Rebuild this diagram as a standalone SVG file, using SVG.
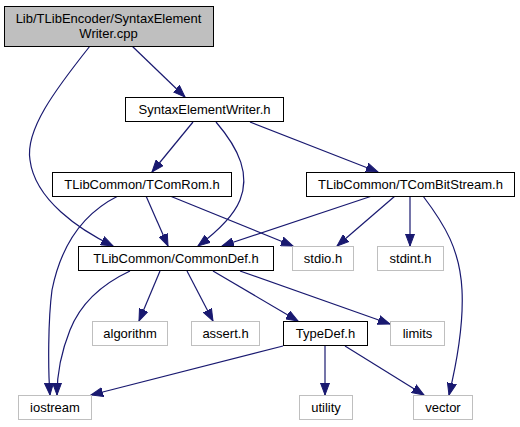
<svg xmlns="http://www.w3.org/2000/svg" width="520" height="427" viewBox="0 0 520 427">
<defs>
<marker id="arr" markerUnits="userSpaceOnUse" markerWidth="13" markerHeight="10" refX="12" refY="5" orient="auto">
<path d="M0,0.5 L12,5 L0,9.5 z" fill="#191970" stroke="#191970" stroke-width="1"/>
</marker>
</defs>
<style>
text{font-family:"Liberation Sans",Arial,sans-serif;font-size:13px;fill:#000;text-anchor:middle}
.n{fill:#fff;stroke:#000;stroke-width:1}
.s{fill:#fff;stroke:#bfbfbf;stroke-width:1}
.r{fill:#bfbfbf;stroke:#000;stroke-width:1}
.e{fill:none;stroke:#191970;stroke-width:1.2;marker-end:url(#arr)}
</style>
<rect width="520" height="427" fill="#fff"/>
<g id="edges">
<path class="e" d="M132,46 L185,97"/>
<path class="e" d="M90,46 C55,90 25,130 30,160 C35,200 80,230 113,246"/>
<path class="e" d="M193,122 L152,172"/>
<path class="e" d="M216,122 C240,150 250,175 240,200 C232,220 210,237 198,246"/>
<path class="e" d="M250,122 L378,172"/>
<path class="e" d="M146,196 L168,246"/>
<path class="e" d="M170,196 L293,246"/>
<path class="e" d="M118,196 C80,215 60,250 52,290 C48,320 48,370 50,395"/>
<path class="e" d="M372,196 L222,246"/>
<path class="e" d="M395,196 L337,246"/>
<path class="e" d="M410,196 L410,246"/>
<path class="e" d="M423,196 C445,225 460,250 462,290 C464,330 455,370 449,395"/>
<path class="e" d="M160,271 L139,321"/>
<path class="e" d="M187,271 L213,321"/>
<path class="e" d="M213,271 L298,321"/>
<path class="e" d="M240,271 L390,324"/>
<path class="e" d="M130,271 C100,285 80,305 70,330 C60,355 57,375 57,395"/>
<path class="e" d="M283,346 L91,395"/>
<path class="e" d="M325,346 L325,395"/>
<path class="e" d="M345,346 L424,395"/>
</g>
<g id="root"><rect class="r" x="4.5" y="6.5" width="209" height="40"/><text x="108.5" y="23">Lib/TLibEncoder/SyntaxElement</text><text x="108.5" y="38">Writer.cpp</text></g>
<g id="sew"><rect class="n" x="125.5" y="97.5" width="158" height="24"/><text x="204.5" y="114">SyntaxElementWriter.h</text></g>
<g id="tcomrom"><rect class="n" x="52.5" y="172.5" width="179" height="24"/><text x="142" y="189">TLibCommon/TComRom.h</text></g>
<g id="tcombitstream"><rect class="n" x="306.5" y="172.5" width="208" height="24"/><text x="410.5" y="189">TLibCommon/TComBitStream.h</text></g>
<g id="commondef"><rect class="n" x="78.5" y="246.5" width="195" height="24"/><text x="176" y="263">TLibCommon/CommonDef.h</text></g>
<g id="stdio"><rect class="s" x="292.5" y="246.5" width="61" height="24"/><text x="323" y="263">stdio.h</text></g>
<g id="stdint"><rect class="s" x="377.5" y="246.5" width="66" height="24"/><text x="410.5" y="263">stdint.h</text></g>
<g id="algorithm"><rect class="s" x="92.5" y="321.5" width="75" height="24"/><text x="130" y="338">algorithm</text></g>
<g id="assert"><rect class="s" x="191.5" y="321.5" width="68" height="24"/><text x="225.5" y="338">assert.h</text></g>
<g id="typedef"><rect class="n" x="283.5" y="321.5" width="84" height="24"/><text x="325.5" y="338">TypeDef.h</text></g>
<g id="limits"><rect class="s" x="390.5" y="321.5" width="54" height="24"/><text x="417.5" y="338">limits</text></g>
<g id="iostream"><rect class="s" x="18.5" y="395.5" width="73" height="24"/><text x="55" y="412">iostream</text></g>
<g id="utility"><rect class="s" x="299.5" y="395.5" width="53" height="24"/><text x="326" y="412">utility</text></g>
<g id="vector"><rect class="s" x="413.5" y="395.5" width="59" height="24"/><text x="443" y="412">vector</text></g>
</svg>
